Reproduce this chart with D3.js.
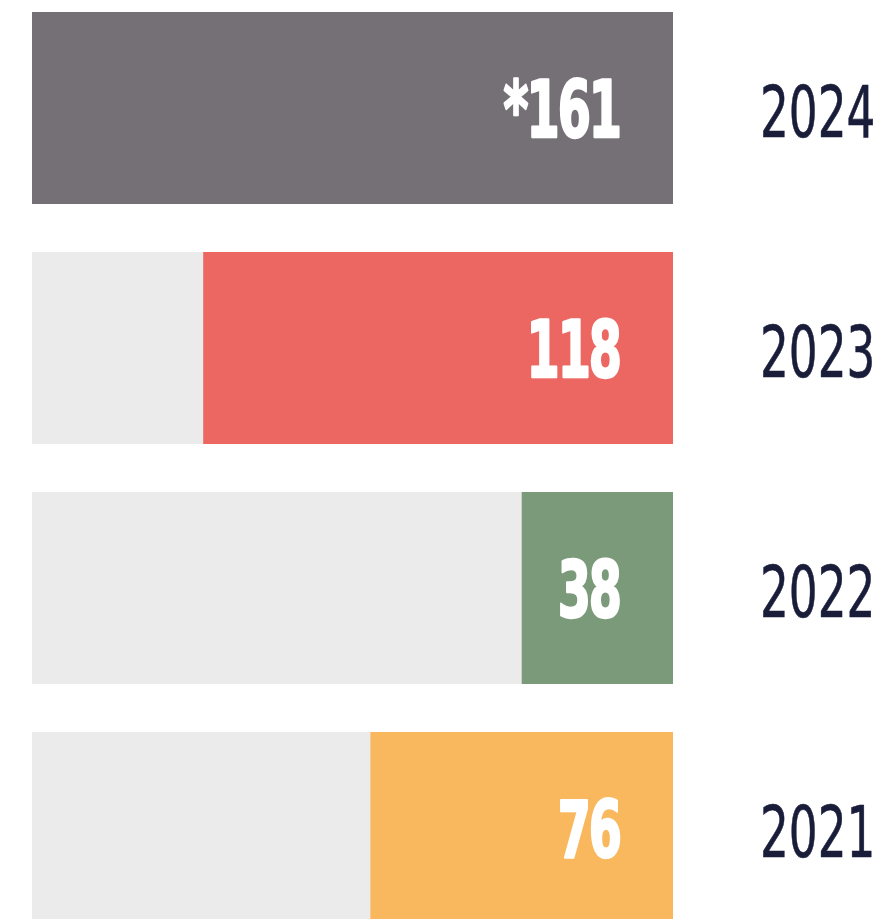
<!DOCTYPE html>
<html>
<head>
<meta charset="utf-8">
<script src="https://cdn.jsdelivr.net/npm/d3@7"></script>
<style>
  html, body { margin: 0; padding: 0; background: #ffffff; }
  svg { display: block; }
</style>
</head>
<body>
<svg id="chart" width="882" height="919"></svg>
<script>
// Yearly totals, newest first
const years = ["2024", "2023", "2022", "2021"];
const values = [161, 118, 38, 76];
const valueLabels = ["*161", "118", "38", "76"];
const barColors = ["#757075", "#EC6662", "#7B9A7A", "#F9B75E"];

const svg = d3.select("#chart");
const trackLeft = 32, trackRight = 673;

// Bars grow leftward from the right edge of the track
const x = d3.scaleLinear().domain([0, d3.max(values)]).range([0, trackRight - trackLeft]);
const y = d3.scaleBand().domain(years).range([12, 924]).paddingInner(0.2).paddingOuter(0);

const rows = svg.selectAll("g.row")
  .data(years.map((yr, i) => ({ yr, v: values[i], label: valueLabels[i], color: barColors[i] })))
  .join("g").attr("class", "row");

rows.append("rect")
  .attr("x", trackLeft).attr("y", d => y(d.yr))
  .attr("width", trackRight - trackLeft).attr("height", y.bandwidth())
  .attr("fill", "#EBEBEB");

rows.append("rect")
  .attr("x", d => trackRight - x(d.v)).attr("y", d => y(d.yr))
  .attr("width", d => x(d.v)).attr("height", y.bandwidth())
  .attr("fill", d => d.color);

// Value labels: heavy condensed white numerals near the right end of the bar
rows.append("text")
  .attr("transform", d => `translate(620,${y(d.yr) + y.bandwidth() / 2 + 29}) scale(0.68,1)`)
  .attr("text-anchor", "end")
  .attr("font-family", "'DejaVu Sans Condensed', 'DejaVu Sans', sans-serif")
  .attr("font-weight", "bold")
  .attr("font-size", 78)
  .attr("letter-spacing", -3)
  .attr("fill", "#ffffff")
  .attr("stroke", "#ffffff")
  .attr("stroke-width", 2.5)
  .attr("stroke-linejoin", "round")
  .text(d => d.label);

// Year labels to the right of the track
rows.append("text")
  .attr("transform", d => `translate(760,${y(d.yr) + y.bandwidth() / 2 + 29}) scale(0.7,1)`)
  .attr("text-anchor", "start")
  .attr("font-family", "'DejaVu Sans Condensed', 'DejaVu Sans', sans-serif")
  .attr("font-size", 72)
  .attr("fill", "#1A1D3A")
  .attr("stroke", "#1A1D3A")
  .attr("stroke-width", 0.6)
  .text(d => d.yr);
</script>
</body>
</html>
